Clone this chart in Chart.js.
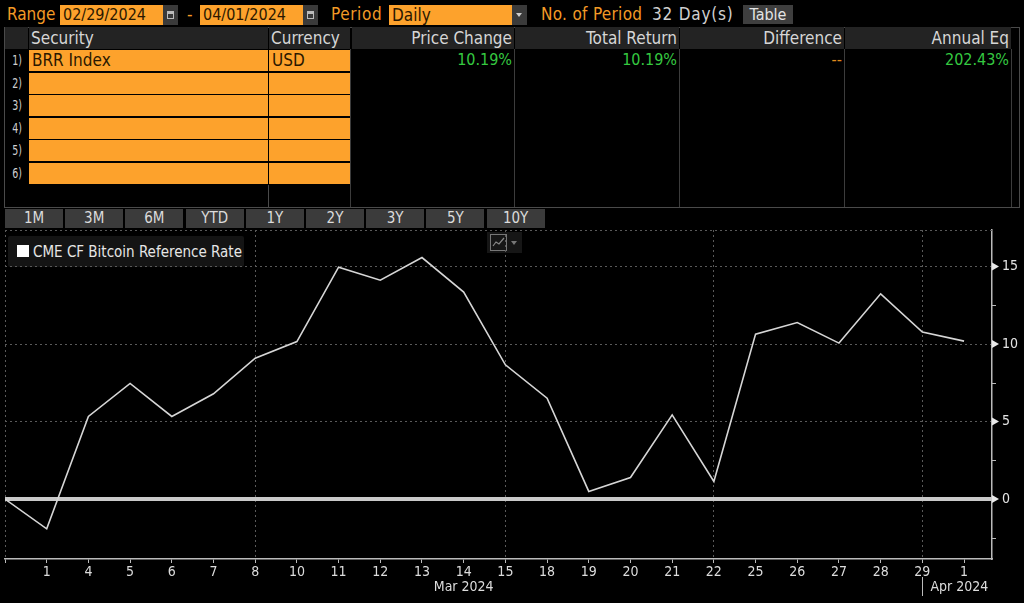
<!DOCTYPE html>
<html>
<head>
<meta charset="utf-8">
<script src="https://cdn.jsdelivr.net/npm/chart.js@4"></script>
<style>
  html, body { margin: 0; padding: 0; background: #000; }
  body { width: 1024px; height: 603px; position: relative; overflow: hidden;
         font-family: "DejaVu Sans Condensed", "DejaVu Sans", sans-serif; }
  .abs { position: absolute; box-sizing: border-box; white-space: nowrap; }
  .lbl { color: #f39a26; font-size: 17px; line-height: 21px; }
  .inp { background: #fda22c; color: #2b1800; font-size: 16px; line-height: 20px; padding-left: 3px; height: 20px; }
  .icon { background: #3a3a3a; height: 20px; width: 15px; }
  .icon::after { content: ""; position: absolute; left: 4px; top: 6px; width: 7px; height: 8px; border: 1px solid #bbb; border-top-width: 3px; box-sizing: border-box; }
  .hdr { background: #232323; color: #d6d6d6; font-size: 17px; line-height: 22px; height: 22px; }
  .cell { background: #fda22c; color: #2b1800; font-size: 17px; line-height: 21px; height: 21px; padding-left: 3px; }
  .num { color: #35c940; font-size: 16px; line-height: 22px; text-align: right; }
  .rown { color: #cfcfcf; font-size: 14px; line-height: 21px; width: 22px; text-align: right; transform: scaleX(0.75); transform-origin: right; }
  .btn { background: #3b3b3b; color: #dcdcdc; font-size: 15px; line-height: 19px; height: 19px; text-align: center; }
  #chartWrap { position: absolute; left: 0; top: 228px; width: 1024px; height: 375px; }
</style>
</head>
<body>
<div id="header"></div>
<div id="chartWrap"><canvas id="perfChart"></canvas></div>
<script>
// x axis day labels (Feb 29 has none)
const dayLabels = ['', '1', '4', '5', '6', '7', '8', '10', '11', '12', '13', '14', '15',
                   '18', '19', '20', '21', '22', '25', '26', '27', '28', '29', '1'];
// cumulative return, %
const brrReturn = [0, -1.92, 5.33, 7.46, 5.33, 6.79, 9.09, 10.16, 14.96, 14.12, 15.58, 13.35,
                   8.66, 6.51, 0.49, 1.39, 5.43, 1.13, 10.64, 11.39, 10.06, 13.24, 10.77, 10.19];
const yTicks = [0, 5, 10, 15];
const yMinorTicks = [-2.5, 2.5, 7.5, 12.5];
const weekGridIdx = [0, 6, 12, 17, 22];
const monthLabels = ['Mar 2024', 'Apr 2024'];
const monthAnchorIdx = [11, 22];

// table
const rangeFrom = '02/29/2024';
const rangeTo = '04/01/2024';
const periodName = 'Daily';
const periodCount = '32 Day(s)';
const tableColumns = ['Price Change', 'Total Return', 'Difference', 'Annual Eq'];
const tableValues = ['10.19%', '10.19%', '--', '202.43%'];
const securities = ['BRR Index', '', '', '', '', ''];
const currencies = ['USD', '', '', '', '', ''];
const rangeButtons = ['1M', '3M', '6M', 'YTD', '1Y', '2Y', '3Y', '5Y', '10Y'];
const seriesName = 'CME CF Bitcoin Reference Rate';

const FONT = '"DejaVu Sans Condensed", "DejaVu Sans", sans-serif';

function el(cls, left, top, width, html, extra) {
    const d = document.createElement('div');
    d.className = 'abs ' + cls;
    d.style.left = left + 'px';
    d.style.top = top + 'px';
    if (width != null) d.style.width = width + 'px';
    if (extra) Object.assign(d.style, extra);
    d.innerHTML = html || '';
    document.getElementById('header').appendChild(d);
    return d;
}

function buildHeader() {
    // top row
    el('lbl', 7, 4, null, 'Range');
    el('inp', 60, 5, 103, rangeFrom);
    el('icon', 163, 5);
    el('lbl', 187, 4, null, '-');
    el('inp', 200, 5, 103, rangeTo);
    el('icon', 303, 5);
    el('lbl', 331, 4, null, 'Period', {letterSpacing: '0.6px'});
    el('inp', 389, 5, 123, periodName, {fontSize: '17px'});
    el('abs', 512, 5, 15, '', {background: '#3a3a3a', height: '20px'});
    el('abs', 516, 13, 0, '', {borderLeft: '3px solid transparent', borderRight: '3px solid transparent', borderTop: '4px solid #ccc', width: '6px'});
    el('lbl', 541, 4, null, 'No. of Period', {letterSpacing: '0.3px'});
    el('lbl', 652, 4, null, periodCount, {color: '#d0d0d0', letterSpacing: '0.8px'});
    el('abs', 743, 5, 50, 'Table', {background: '#3e3e3e', color: '#e4e4e4', fontSize: '16px', lineHeight: '19px', height: '19px', textAlign: 'center'});

    // table frame
    el('abs', 4, 27, 1016, '', {height: '181px', border: '1px solid #4a4a4a'});
    el('hdr', 5, 27, 23, '');
    el('hdr', 29, 27, 239, 'Security', {paddingLeft: '2px'});
    el('hdr', 269, 27, 81, 'Currency', {paddingLeft: '2px'});
    const colEdges = [352, 515, 680, 845, 1012];
    tableColumns.forEach((c, i) => {
        const w = colEdges[i + 1] - colEdges[i] - 1;
        el('hdr', colEdges[i], 27, w, c, {textAlign: 'right', paddingRight: '2px'});
        el('num', colEdges[i], 49, w, tableValues[i], {paddingRight: '2px', color: tableValues[i] === '--' ? '#e08a1c' : '#35c940'});
        el('abs', colEdges[i + 1] - 1, 49, 1, '', {height: '158px', background: '#3c3c3c'});
    });
    el('abs', 350, 49, 1, '', {height: '158px', background: '#3c3c3c'});
    el('abs', 268, 185, 1, '', {height: '22px', background: '#4a4a4a'});
    securities.forEach((s, i) => {
        const top = 50 + i * 22.6;
        el('rown', 0, top, null, (i + 1) + ')');
        el('cell', 29, top, 239, s);
        el('cell', 269, top, 81, currencies[i]);
    });

    // range buttons
    rangeButtons.forEach((b, i) => {
        el('btn', 5 + i * 60.2, 209, 58, b);
    });

    // legend
    el('abs', 8, 236, 236, '', {height: '31px', background: '#141414', borderRadius: '2px'});
    el('abs', 17, 245, 12, '', {height: '12px', background: '#fff'});
    el('abs', 33, 242, null, seriesName, {color: '#e6e6e6', fontSize: '15px', lineHeight: '20px'});
    // chart type icon
    el('abs', 487, 232, 35, '', {height: '21px', background: '#161616'});
    el('abs', 490, 234, 17, '<svg width="17" height="17"><rect x="0.5" y="0.5" width="16" height="16" fill="none" stroke="#777"/>' +
        '<polyline points="3,12 6,8 9,10 14,4" fill="none" stroke="#888" stroke-width="1.2"/></svg>', {height: '17px'});
    el('abs', 511, 241, 0, '', {borderLeft: '3px solid transparent', borderRight: '3px solid transparent', borderTop: '4px solid #777', width: '6px'});
}

const axisDecor = {
    id: 'axisDecor',
    beforeDatasetsDraw(chart) {
        const {ctx, chartArea, scales: {y}} = chart;
        ctx.save();
        // dotted frame top
        ctx.strokeStyle = '#5a5a5a';
        ctx.lineWidth = 1;
        ctx.setLineDash([2, 3]);
        ctx.beginPath();
        ctx.moveTo(chartArea.left, chartArea.top + 0.5);
        ctx.lineTo(chartArea.right, chartArea.top + 0.5);
        ctx.stroke();
        ctx.setLineDash([]);
        // zero line
        ctx.strokeStyle = '#c9c9c9';
        ctx.lineWidth = 4;
        ctx.beginPath();
        ctx.moveTo(chartArea.left, y.getPixelForValue(0));
        ctx.lineTo(chartArea.right, y.getPixelForValue(0));
        ctx.stroke();
        ctx.restore();
    },
    afterDraw(chart) {
        const {ctx, chartArea, scales: {x, y}} = chart;
        ctx.save();
        const r = chartArea.right;
        ctx.fillStyle = '#e8e8e8';
        yTicks.forEach(v => {
            const py = y.getPixelForValue(v);
            ctx.beginPath();
            ctx.moveTo(r, py - 4);
            ctx.lineTo(r + 7, py);
            ctx.lineTo(r, py + 4);
            ctx.closePath();
            ctx.fill();
        });
        ctx.strokeStyle = '#bbbbbb';
        ctx.lineWidth = 1;
        yMinorTicks.forEach(v => {
            const py = Math.round(y.getPixelForValue(v)) + 0.5;
            ctx.beginPath();
            ctx.moveTo(r, py);
            ctx.lineTo(r + 4, py);
            ctx.stroke();
        });
        // month labels
        ctx.font = '14px ' + FONT;
        ctx.fillStyle = '#dcdcdc';
        ctx.textBaseline = 'middle';
        const ly = chartArea.bottom + 28;
        ctx.textAlign = 'center';
        ctx.fillText(monthLabels[0], x.getPixelForValue(monthAnchorIdx[0]), ly);
        const sx = Math.round(x.getPixelForValue(monthAnchorIdx[1])) + 0.5;
        ctx.beginPath();
        ctx.moveTo(sx, chartArea.bottom + 18);
        ctx.lineTo(sx, chartArea.bottom + 37);
        ctx.stroke();
        ctx.textAlign = 'left';
        ctx.fillText(monthLabels[1], sx + 8, ly);
        ctx.restore();
    }
};

function renderChart() {
    const ctx = document.getElementById('perfChart').getContext('2d');
    new Chart(ctx, {
        type: 'line',
        data: {
            datasets: [{
                label: seriesName,
                data: brrReturn.map((v, i) => ({x: i, y: v})),
                borderColor: '#d6d6d6',
                borderWidth: 1.6,
                pointRadius: 0,
                tension: 0,
            }]
        },
        options: {
            responsive: true,
            maintainAspectRatio: false,
            animation: false,
            layout: {padding: {left: 5, top: 2, right: 0, bottom: 0}},
            plugins: {legend: {display: false}, tooltip: {enabled: false}},
            scales: {
                x: {
                    type: 'linear',
                    min: 0,
                    max: 23.67,
                    afterBuildTicks: s => { s.ticks = dayLabels.map((_, i) => ({value: i})); },
                    afterFit: s => { s.height = 44; s.paddingLeft = 0; s.paddingRight = 0; },
                    ticks: {
                        callback: v => dayLabels[v],
                        color: '#dcdcdc',
                        font: {family: FONT, size: 14},
                        padding: 1,
                        maxRotation: 0,
                        autoSkip: false,
                    },
                    grid: {
                        color: c => weekGridIdx.includes(c.tick && c.tick.value) ? '#5a5a5a' : 'rgba(0,0,0,0)',
                        tickColor: '#bbbbbb',
                        tickLength: 4,
                        lineWidth: 1,
                    },
                    border: {color: '#bbbbbb', width: 1.5, dash: [2, 3]},
                },
                y: {
                    position: 'right',
                    min: -3.87,
                    max: 17.36,
                    afterBuildTicks: s => { s.ticks = yTicks.map(v => ({value: v})); },
                    afterFit: s => { s.width = 32; s.paddingTop = 0; s.paddingBottom = 0; },
                    ticks: {
                        color: '#e4e4e4',
                        font: {family: FONT, size: 14},
                        padding: 10,
                    },
                    grid: {
                        color: '#5a5a5a',
                        drawTicks: false,
                        lineWidth: 1,
                    },
                    border: {color: '#bbbbbb', width: 1.5, dash: [2, 3]},
                }
            }
        },
        plugins: [axisDecor]
    });
}

document.addEventListener('DOMContentLoaded', () => {
    buildHeader();
    renderChart();
});
</script>
</body>
</html>
